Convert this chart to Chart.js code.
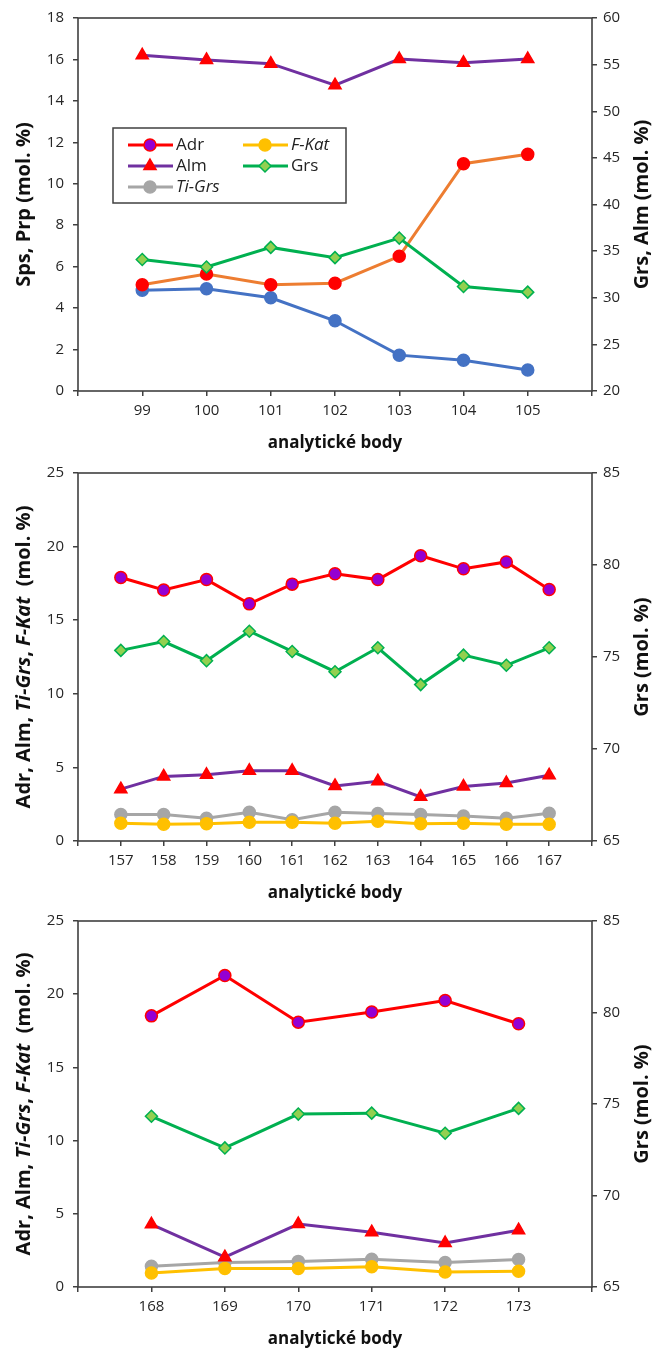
<!DOCTYPE html>
<html>
<head>
<meta charset="utf-8">
<script src="https://cdn.jsdelivr.net/npm/chart.js@4.4.1/dist/chart.umd.min.js"></script>
<style>
html, body { margin: 0; padding: 0; background: #fff; }
.box { position: absolute; left: 0; width: 655px; }
</style>
</head>
<body>
<div class="box" style="top:0;height:455px"><canvas id="c1"></canvas></div>
<div class="box" style="top:455px;height:448px"><canvas id="c2"></canvas></div>
<div class="box" style="top:903px;height:446px"><canvas id="c3"></canvas></div>
<script>
// --- chart 1: points 99-105
const points1 = [99, 100, 101, 102, 103, 104, 105];
const alm1 = [56.0, 55.5, 55.1, 52.8, 55.6, 55.2, 55.6];
const grs1 = [34.1, 33.3, 35.4, 34.3, 36.4, 31.2, 30.6];
const prp1 = [5.13, 5.65, 5.13, 5.2, 6.5, 10.97, 11.42];
const sps1 = [4.86, 4.93, 4.5, 3.39, 1.73, 1.48, 1.01];
const leftTicks1 = [0, 2, 4, 6, 8, 10, 12, 14, 16, 18];
const rightTicks1 = [20, 25, 30, 35, 40, 45, 50, 55, 60];

// --- chart 2: points 157-167
const points2 = [157, 158, 159, 160, 161, 162, 163, 164, 165, 166, 167];
const adr2 = [17.9, 17.05, 17.76, 16.11, 17.45, 18.16, 17.76, 19.38, 18.49, 18.96, 17.09];
const grs2 = [75.36, 75.84, 74.8, 76.4, 75.3, 74.2, 75.5, 73.5, 75.1, 74.55, 75.5];
const alm2 = [3.52, 4.39, 4.5, 4.77, 4.77, 3.74, 4.06, 3.0, 3.7, 3.94, 4.46];
const tigrs2 = [1.8, 1.8, 1.54, 1.96, 1.45, 1.96, 1.87, 1.8, 1.69, 1.54, 1.89];
const fkat2 = [1.2, 1.14, 1.18, 1.27, 1.27, 1.2, 1.34, 1.18, 1.2, 1.14, 1.14];

// --- chart 3: points 168-173
const points3 = [168, 169, 170, 171, 172, 173];
const adr3 = [18.52, 21.28, 18.09, 18.79, 19.57, 17.98];
const grs3 = [74.33, 72.6, 74.45, 74.5, 73.4, 74.76];
const alm3 = [4.28, 2.04, 4.3, 3.74, 3.0, 3.88];
const tigrs3 = [1.41, 1.68, 1.75, 1.9, 1.68, 1.88];
const fkat3 = [0.96, 1.26, 1.26, 1.39, 1.03, 1.08];

const leftTicks23 = [0, 5, 10, 15, 20, 25];
const rightTicks23 = [65, 70, 75, 80, 85];

const TICK_FONT = { family: '"Open Sans"', size: 15 };
const AXIS_COLOR = '#404040';
const TITLE_FONT = '20px "Open Sans"';

// series looks
const styles = {
  adr:   { line: '#ff0000', fill: '#9400d3', border: '#ff0000', shape: 'circle', r: 6 },
  alm:   { line: '#7030a0', fill: '#ff0000', border: '#ff0000', shape: 'triangle', r: 7 },
  tigrs: { line: '#a6a6a6', fill: '#a6a6a6', border: '#a6a6a6', shape: 'circle', r: 6 },
  fkat:  { line: '#ffc000', fill: '#ffc000', border: '#ffc000', shape: 'circle', r: 6 },
  grs:   { line: '#00b050', fill: '#92d050', border: '#00b050', shape: 'rectRot', r: 6 },
  prp:   { line: '#ed7d31', fill: '#ff0000', border: '#ff0000', shape: 'circle', r: 6 },
  sps:   { line: '#4472c4', fill: '#4472c4', border: '#4472c4', shape: 'circle', r: 6 }
};

function series(label, key, cats, vals, axis) {
  const s = styles[key];
  return {
    label: label,
    data: cats.map((c, i) => ({ x: c, y: vals[i] })),
    yAxisID: axis,
    borderColor: s.line,
    borderWidth: 3,
    pointStyle: s.shape,
    pointRadius: s.r,
    pointBackgroundColor: s.fill,
    pointBorderColor: s.border,
    pointBorderWidth: 1.5,
    tension: 0,
    clip: false
  };
}

function drawRotated(ctx, segs, x, y) {
  ctx.save();
  ctx.translate(x, y);
  ctx.rotate(-Math.PI / 2);
  ctx.textBaseline = 'middle';
  ctx.textAlign = 'left';
  const fontOf = sg => (sg.i ? 'italic ' : '') + 'bold ' + TITLE_FONT;
  let total = 0;
  segs.forEach(sg => {
    ctx.font = fontOf(sg);
    total += ctx.measureText(sg.t).width;
  });
  let pos = -total / 2;
  segs.forEach(sg => {
    ctx.font = fontOf(sg);
    ctx.fillText(sg.t, pos, 0);
    pos += ctx.measureText(sg.t).width;
  });
  ctx.restore();
}

const framePlugin = {
  id: 'frame',
  beforeDatasetsDraw(chart) {
    const { ctx, chartArea: a } = chart;
    ctx.save();
    ctx.strokeStyle = AXIS_COLOR;
    ctx.lineWidth = 1.6;
    ctx.strokeRect(a.left, a.top, a.right - a.left, a.bottom - a.top);
    ctx.restore();
  },
  afterDraw(chart, args, opts) {
    const { ctx, chartArea: a } = chart;
    const mid = (a.top + a.bottom) / 2;
    ctx.save();
    ctx.fillStyle = '#111';
    ctx.font = 'bold 17px "Open Sans"';
    ctx.textAlign = 'center';
    ctx.textBaseline = 'middle';
    ctx.fillText(opts.xTitle, (a.left + a.right) / 2, a.bottom + 52);
    drawRotated(ctx, opts.left, 24, mid);
    drawRotated(ctx, opts.right, 642, mid);
    ctx.restore();
  }
};

// legend box (only on the first chart)
const legendItems = [
  { key: 'adr', text: 'Adr', italic: false, col: 0, row: 0 },
  { key: 'alm', text: 'Alm', italic: false, col: 0, row: 1 },
  { key: 'tigrs', text: 'Ti-Grs', italic: true, col: 0, row: 2 },
  { key: 'fkat', text: 'F-Kat', italic: true, col: 1, row: 0 },
  { key: 'grs', text: 'Grs', italic: false, col: 1, row: 1 }
];

const legendPlugin = {
  id: 'boxLegend',
  afterDraw(chart, args, opts) {
    if (!opts.show) return;
    const ctx = chart.ctx;
    const bx = 113, by = 128, bw = 233, bh = 75;
    ctx.save();
    ctx.fillStyle = '#fff';
    ctx.fillRect(bx, by, bw, bh);
    ctx.strokeStyle = '#404040';
    ctx.lineWidth = 1.5;
    ctx.strokeRect(bx, by, bw, bh);
    legendItems.forEach(it => {
      const s = styles[it.key];
      const x0 = bx + 15 + it.col * 115;
      const y = by + 17 + it.row * 21;
      ctx.strokeStyle = s.line;
      ctx.lineWidth = 3;
      ctx.beginPath();
      ctx.moveTo(x0, y);
      ctx.lineTo(x0 + 45, y);
      ctx.stroke();
      ctx.fillStyle = s.fill;
      ctx.strokeStyle = s.border;
      ctx.lineWidth = 1.5;
      Chart.helpers.drawPoint(ctx, { pointStyle: s.shape, radius: s.r, rotation: 0, borderWidth: 1.5 }, x0 + 22, y);
      ctx.fillStyle = '#222';
      ctx.font = (it.italic ? 'italic ' : '') + '17px "Open Sans"';
      ctx.textAlign = 'left';
      ctx.textBaseline = 'middle';
      ctx.fillText(it.text, x0 + 48, y);
    });
    ctx.restore();
  }
};

function makeScales(cats, xMin, xMax, leftTicks, rightTicks, xHeight) {
  return {
    x: {
      type: 'linear', min: xMin, max: xMax,
      ticks: {
        stepSize: 1, autoSkip: false, maxRotation: 0, padding: 6,
        font: TICK_FONT, color: '#262626',
        callback: v => cats.includes(v) ? String(v) : ''
      },
      grid: { drawOnChartArea: false, drawTicks: true, tickLength: 5, color: AXIS_COLOR, lineWidth: 1.5 },
      border: { display: false },
      afterFit: s => { s.height = xHeight; }
    },
    y: {
      position: 'left',
      min: leftTicks[0], max: leftTicks[leftTicks.length - 1],
      ticks: { stepSize: leftTicks[1] - leftTicks[0], padding: 9, font: TICK_FONT, color: '#262626' },
      grid: { drawOnChartArea: false, drawTicks: true, tickLength: 5, color: AXIS_COLOR, lineWidth: 1.5 },
      border: { display: false },
      afterFit: s => { s.width = 78; }
    },
    y1: {
      position: 'right',
      min: rightTicks[0], max: rightTicks[rightTicks.length - 1],
      ticks: { stepSize: rightTicks[1] - rightTicks[0], padding: 6, font: TICK_FONT, color: '#262626' },
      grid: { drawOnChartArea: false, drawTicks: true, tickLength: 5, color: AXIS_COLOR, lineWidth: 1.5 },
      border: { display: false },
      afterFit: s => { s.width = 63; }
    }
  };
}

function makeChart(id, datasets, scales, padTop, frame, showLegend) {
  return new Chart(document.getElementById(id), {
    type: 'line',
    data: { datasets: datasets },
    options: {
      responsive: true,
      maintainAspectRatio: false,
      animation: false,
      layout: { padding: { top: padTop, left: 0, right: 0, bottom: 0 }, autoPadding: false },
      scales: scales,
      plugins: {
        legend: { display: false },
        tooltip: { enabled: false },
        frame: frame,
        boxLegend: { show: showLegend }
      }
    },
    plugins: [framePlugin, legendPlugin]
  });
}

const xTitle = 'analytické body';
const leftTitle23 = [
  { t: 'Adr, Alm, ' }, { t: 'Ti-Grs', i: true }, { t: ', ' },
  { t: 'F-Kat', i: true }, { t: '  (mol. %)' }
];

makeChart('c1', [
  series('Alm', 'alm', points1, alm1, 'y1'),
  series('Grs', 'grs', points1, grs1, 'y1'),
  series('Prp', 'prp', points1, prp1, 'y'),
  series('Sps', 'sps', points1, sps1, 'y')
], makeScales(points1, 98, 106, leftTicks1, rightTicks1, 64), 16, {
  xTitle: xTitle,
  left: [{ t: 'Sps, Prp (mol. %)' }],
  right: [{ t: 'Grs, Alm (mol. %)' }]
}, true);

makeChart('c2', [
  series('Adr', 'adr', points2, adr2, 'y'),
  series('Grs', 'grs', points2, grs2, 'y1'),
  series('Alm', 'alm', points2, alm2, 'y'),
  series('F-Kat', 'fkat', points2, fkat2, 'y'),
  series('Ti-Grs', 'tigrs', points2, tigrs2, 'y')
], makeScales(points2, 156, 168, leftTicks23, rightTicks23, 62), 12, {
  xTitle: xTitle,
  left: leftTitle23,
  right: [{ t: 'Grs (mol. %)' }]
}, false);

makeChart('c3', [
  series('Adr', 'adr', points3, adr3, 'y'),
  series('Grs', 'grs', points3, grs3, 'y1'),
  series('Alm', 'alm', points3, alm3, 'y'),
  series('F-Kat', 'fkat', points3, fkat3, 'y'),
  series('Ti-Grs', 'tigrs', points3, tigrs3, 'y')
], makeScales(points3, 167, 174, leftTicks23, rightTicks23, 62), 13, {
  xTitle: xTitle,
  left: leftTitle23,
  right: [{ t: 'Grs (mol. %)' }]
}, false);
</script>
</body>
</html>
